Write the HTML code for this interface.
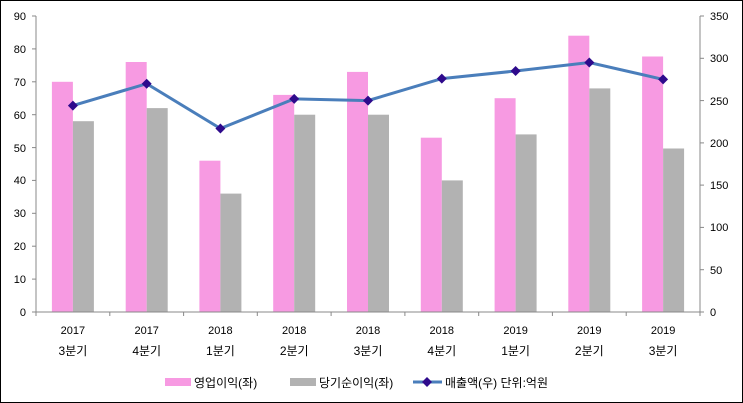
<!DOCTYPE html><html><head><meta charset="utf-8"><style>body{margin:0}svg{display:block}text{font-family:"Liberation Sans","Noto Sans CJK KR",sans-serif;font-size:11px;fill:#000}.q{font-size:12px}</style></head><body>
<svg width="743" height="403" xmlns="http://www.w3.org/2000/svg">
<rect x="0.5" y="0.5" width="742" height="402" fill="#fff" stroke="#000"/>
<g fill="#f79ae2">
<rect x="51.9" y="81.8" width="21" height="230.2"/>
<rect x="125.7" y="62" width="21" height="250"/>
<rect x="199.4" y="160.7" width="21" height="151.3"/>
<rect x="273.2" y="94.9" width="21" height="217.1"/>
<rect x="347" y="71.9" width="21" height="240.1"/>
<rect x="420.8" y="137.7" width="21" height="174.3"/>
<rect x="494.6" y="98.2" width="21" height="213.8"/>
<rect x="568.3" y="35.7" width="21" height="276.3"/>
<rect x="642.1" y="56.5" width="21" height="255.5"/>
</g>
<g fill="#b2b2b2">
<rect x="72.9" y="121.2" width="21" height="190.8"/>
<rect x="146.7" y="108.1" width="21" height="203.9"/>
<rect x="220.4" y="193.6" width="21" height="118.4"/>
<rect x="294.2" y="114.7" width="21" height="197.3"/>
<rect x="368" y="114.7" width="21" height="197.3"/>
<rect x="441.8" y="180.4" width="21" height="131.6"/>
<rect x="515.6" y="134.4" width="21" height="177.6"/>
<rect x="589.3" y="88.4" width="21" height="223.6"/>
<rect x="663.1" y="148.5" width="21" height="163.5"/>
</g>
<g stroke="#888">
<line x1="36" y1="16" x2="36" y2="312"/><line x1="700" y1="16" x2="700" y2="312"/><line x1="36" y1="312" x2="700" y2="312"/>
<line x1="32" y1="312" x2="36" y2="312"/><line x1="32" y1="279.1" x2="36" y2="279.1"/><line x1="32" y1="246.2" x2="36" y2="246.2"/><line x1="32" y1="213.3" x2="36" y2="213.3"/><line x1="32" y1="180.4" x2="36" y2="180.4"/><line x1="32" y1="147.6" x2="36" y2="147.6"/><line x1="32" y1="114.7" x2="36" y2="114.7"/><line x1="32" y1="81.8" x2="36" y2="81.8"/><line x1="32" y1="48.9" x2="36" y2="48.9"/><line x1="32" y1="16" x2="36" y2="16"/>
<line x1="700" y1="312" x2="704" y2="312"/><line x1="700" y1="269.7" x2="704" y2="269.7"/><line x1="700" y1="227.4" x2="704" y2="227.4"/><line x1="700" y1="185.1" x2="704" y2="185.1"/><line x1="700" y1="142.9" x2="704" y2="142.9"/><line x1="700" y1="100.6" x2="704" y2="100.6"/><line x1="700" y1="58.3" x2="704" y2="58.3"/><line x1="700" y1="16" x2="704" y2="16"/>
<line x1="109.8" y1="312" x2="109.8" y2="316"/><line x1="183.6" y1="312" x2="183.6" y2="316"/><line x1="257.3" y1="312" x2="257.3" y2="316"/><line x1="331.1" y1="312" x2="331.1" y2="316"/><line x1="404.9" y1="312" x2="404.9" y2="316"/><line x1="478.7" y1="312" x2="478.7" y2="316"/><line x1="552.4" y1="312" x2="552.4" y2="316"/><line x1="626.2" y1="312" x2="626.2" y2="316"/><line x1="36" y1="312" x2="36" y2="316"/><line x1="700" y1="312" x2="700" y2="316"/>
</g>
<g text-anchor="end">
<text x="26" y="316">0</text><text x="26" y="283">10</text><text x="26" y="250">20</text><text x="26" y="217">30</text><text x="26" y="184">40</text><text x="26" y="152">50</text><text x="26" y="119">60</text><text x="26" y="86">70</text><text x="26" y="53">80</text><text x="26" y="20">90</text>
</g>
<g>
<text x="710" y="316">0</text><text x="710" y="274">50</text><text x="710" y="231">100</text><text x="710" y="189">150</text><text x="710" y="147">200</text><text x="710" y="105">250</text><text x="710" y="62">300</text><text x="710" y="20">350</text>
</g>
<g text-anchor="middle">
<text x="72.9" y="334">2017</text><text x="146.7" y="334">2017</text><text x="220.4" y="334">2018</text><text x="294.2" y="334">2018</text><text x="368" y="334">2018</text><text x="441.8" y="334">2018</text><text x="515.6" y="334">2019</text><text x="589.3" y="334">2019</text><text x="663.1" y="334">2019</text>
<text class="q" x="72.9" y="355">3분기</text><text class="q" x="146.7" y="355">4분기</text><text class="q" x="220.4" y="355">1분기</text><text class="q" x="294.2" y="355">2분기</text><text class="q" x="368" y="355">3분기</text><text class="q" x="441.8" y="355">4분기</text><text class="q" x="515.6" y="355">1분기</text><text class="q" x="589.3" y="355">2분기</text><text class="q" x="663.1" y="355">3분기</text>
</g>
<polyline points="72.9,105.6 146.7,83.7 220.4,128.5 294.2,98.9 368,100.6 441.8,78.6 515.6,71 589.3,62.5 663.1,79.4" fill="none" stroke="#4a7ebb" stroke-width="3"/>
<g fill="#2e0a8c">
<polygon points="72.9,100.6 77.9,105.6 72.9,110.6 67.9,105.6"/>
<polygon points="146.7,78.7 151.7,83.7 146.7,88.7 141.7,83.7"/>
<polygon points="220.4,123.5 225.4,128.5 220.4,133.5 215.4,128.5"/>
<polygon points="294.2,93.9 299.2,98.9 294.2,103.9 289.2,98.9"/>
<polygon points="368,95.6 373,100.6 368,105.6 363,100.6"/>
<polygon points="441.8,73.6 446.8,78.6 441.8,83.6 436.8,78.6"/>
<polygon points="515.6,66 520.6,71 515.6,76 510.6,71"/>
<polygon points="589.3,57.5 594.3,62.5 589.3,67.5 584.3,62.5"/>
<polygon points="663.1,74.4 668.1,79.4 663.1,84.4 658.1,79.4"/>
</g>
<rect x="165" y="378" width="26" height="8" fill="#f79ae2"/><text class="q" x="194" y="387">영업이익(좌)</text>
<rect x="290" y="378" width="26" height="8" fill="#b2b2b2"/><text class="q" x="319" y="387">당기순이익(좌)</text>
<line x1="413" y1="382" x2="442" y2="382" stroke="#4a7ebb" stroke-width="3"/><polygon points="427,377 432,382 427,387 422,382" fill="#2e0a8c"/><text class="q" x="445" y="387">매출액(우)  단위:억원</text>
</svg></body></html>
